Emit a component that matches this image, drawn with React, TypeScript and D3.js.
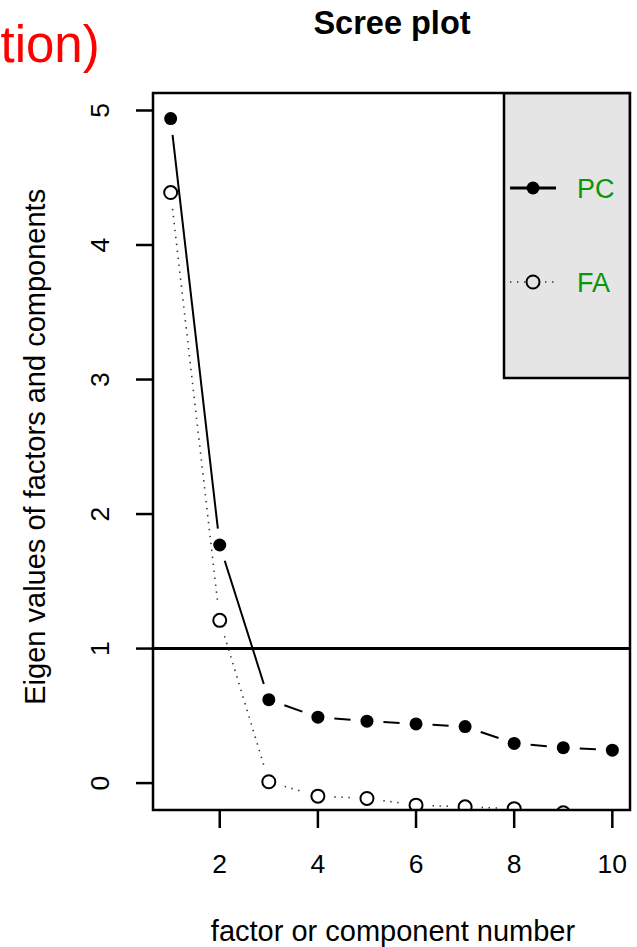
import React from 'react';
import * as d3 from 'd3';

// eigen values
const factorNumbers = [1, 2, 3, 4, 5, 6, 7, 8, 9, 10];
const pcValues = [4.94, 1.77, 0.62, 0.49, 0.46, 0.44, 0.42, 0.295, 0.263, 0.245];
const faValues = [4.39, 1.21, 0.01, -0.097, -0.114, -0.164, -0.176, -0.19, -0.22, -0.26];
const xTicks = [2, 4, 6, 8, 10];
const yTicks = [0, 1, 2, 3, 4, 5];
const legendLabels = ['PC', 'FA'];

const W = 637;
const H = 947;
const box = { left: 153, right: 630, top: 93, bottom: 810 };
const FONT = '"Liberation Sans", Arial, sans-serif';
const GREEN = '#0a960a';

// R style type="b": segments between points, with a gap round each point
const gappedSegments = (pts: [number, number][], gap: number) => {
  const segs: [number, number, number, number][] = [];
  for (let i = 0; i < pts.length - 1; i++) {
    const [x1, y1] = pts[i];
    const [x2, y2] = pts[i + 1];
    const dx = x2 - x1;
    const dy = y2 - y1;
    const len = Math.hypot(dx, dy);
    if (len <= 2 * gap) continue;
    const ux = dx / len;
    const uy = dy / len;
    segs.push([x1 + ux * gap, y1 + uy * gap, x2 - ux * gap, y2 - uy * gap]);
  }
  return segs;
};

const App = () => {
  // usr coords: range of data extended by 4% like R
  const x = d3.scaleLinear().domain([0.64, 10.36]).range([box.left, box.right]);
  const y = d3.scaleLinear().domain([-0.2, 5.13]).range([box.bottom, box.top]);

  const pcPts = factorNumbers.map((n, i) => [x(n), y(pcValues[i])] as [number, number]);
  const faPts = factorNumbers.map((n, i) => [x(n), y(faValues[i])] as [number, number]);
  const gap = 16.5;
  const r = 6.5;

  const legendX = 504;
  const legendBottom = 378;
  const legendRows = [188, 282];

  return (
    <svg width={W} height={H} style={{ position: 'absolute', left: 0, top: 0 }} fontFamily={FONT}>
      <defs>
        <clipPath id="plotClip">
          <rect x={box.left} y={box.top} width={box.right - box.left} height={box.bottom - box.top} />
        </clipPath>
      </defs>
      <rect x={0} y={0} width={W} height={H} fill="#fff" />

      {/* slide text cut off at the left */}
      <text x={0.5} y={62} fontSize={51} fill="#ff0000">
        tion)
      </text>

      <text x={392} y={34} fontSize={32.5} fontWeight="bold" textAnchor="middle">
        Scree plot
      </text>

      <g clipPath="url(#plotClip)">
        {/* legend background */}
        <rect x={legendX} y={box.top} width={box.right - legendX} height={legendBottom - box.top} fill="#e5e5e5" stroke="#000" strokeWidth={2.5} />

        <line x1={box.left} x2={box.right} y1={y(1)} y2={y(1)} stroke="#000" strokeWidth={3} />

        {gappedSegments(pcPts, gap).map((s, i) => (
          <line key={'pc' + i} x1={s[0]} y1={s[1]} x2={s[2]} y2={s[3]} stroke="#000" strokeWidth={2} />
        ))}
        {gappedSegments(faPts, gap).map((s, i) => (
          <line key={'fa' + i} x1={s[0]} y1={s[1]} x2={s[2]} y2={s[3]} stroke="#333" strokeWidth={1.6} strokeDasharray="1.4 5.6" />
        ))}

        {pcPts.map((p, i) => (
          <circle key={'pcp' + i} cx={p[0]} cy={p[1]} r={r} fill="#000" />
        ))}
        {faPts.map((p, i) => (
          <circle key={'fap' + i} cx={p[0]} cy={p[1]} r={r} fill="none" stroke="#000" strokeWidth={2} />
        ))}
      </g>

      {/* legend */}
      <line x1={510} x2={556} y1={legendRows[0]} y2={legendRows[0]} stroke="#000" strokeWidth={3} />
      <circle cx={533} cy={legendRows[0]} r={r} fill="#000" />
      <line x1={510} x2={556} y1={legendRows[1]} y2={legendRows[1]} stroke="#333" strokeWidth={1.6} strokeDasharray="1.4 5.6" />
      <circle cx={533} cy={legendRows[1]} r={r} fill="#e5e5e5" stroke="#000" strokeWidth={2} />
      {legendLabels.map((l, i) => (
        <text key={l} x={577} y={legendRows[i] + 9.5} fontSize={27} fill={GREEN}>
          {l}
        </text>
      ))}

      <rect x={box.left} y={box.top} width={box.right - box.left} height={box.bottom - box.top} fill="none" stroke="#000" strokeWidth={2.5} />

      {/* x axis */}
      {xTicks.map((t) => (
        <g key={'xt' + t}>
          <line x1={x(t)} x2={x(t)} y1={box.bottom} y2={box.bottom + 18} stroke="#000" strokeWidth={2.5} />
          <text x={x(t)} y={873} fontSize={26.5} textAnchor="middle">
            {t}
          </text>
        </g>
      ))}
      <text x={393} y={941} fontSize={29} textAnchor="middle">
        factor or component number
      </text>

      {/* y axis */}
      {yTicks.map((t) => (
        <g key={'yt' + t}>
          <line x1={box.left - 17} x2={box.left} y1={y(t)} y2={y(t)} stroke="#000" strokeWidth={2.5} />
          <text transform={`translate(${109},${y(t)}) rotate(-90)`} fontSize={26.5} textAnchor="middle">
            {t}
          </text>
        </g>
      ))}
      <text transform={`translate(${45},${y(2.5)}) rotate(-90)`} fontSize={29} textAnchor="middle">
        Eigen values of factors and components
      </text>
    </svg>
  );
};

export default App;
